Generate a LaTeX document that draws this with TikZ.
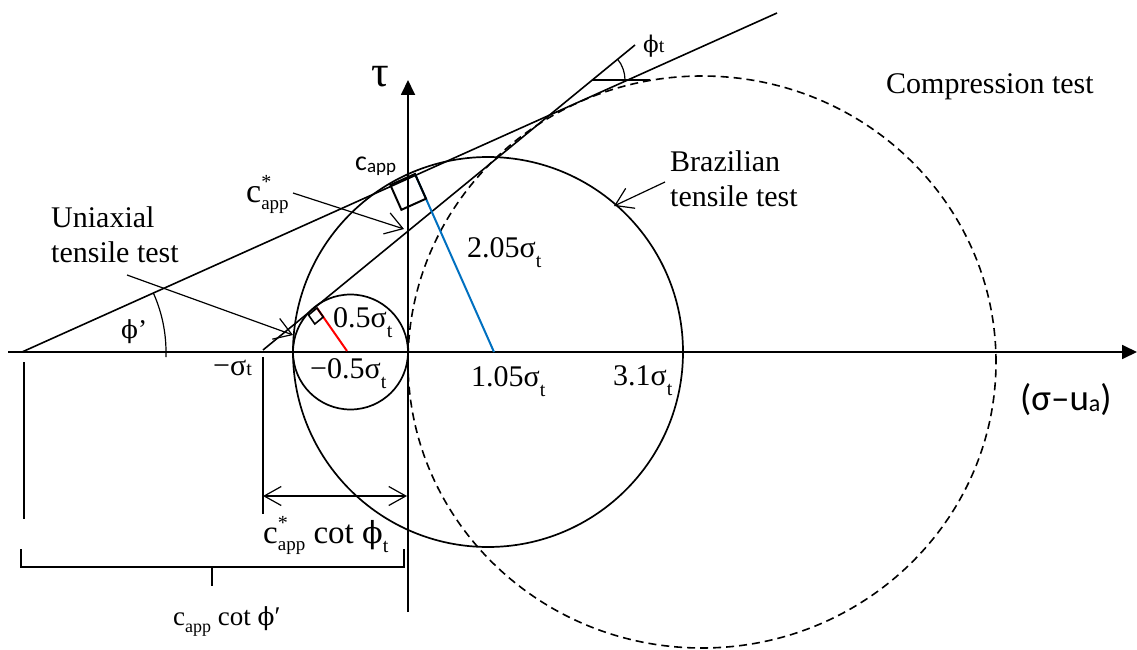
\documentclass[tikz,border=0pt]{standalone}
\usepackage{fontspec}
\setmainfont{Liberation Serif}
\setsansfont{Carlito}
\newfontfamily\phifont{DejaVu Serif}
\usetikzlibrary{arrows.meta, positioning, calc}

\newcommand{\lo}[2][10pt]{\raisebox{-#1}{\fontsize{20}{20}\selectfont #2}}
\newcommand{\sm}[1]{{\fontsize{20}{20}\selectfont #1}}
\newcommand{\supsub}[2]{\rlap{\raisebox{14pt}{\fontsize{20}{20}\selectfont #1}}%
  \raisebox{-7pt}{\fontsize{19}{19}\selectfont #2}}
\newcommand{\phis}{{\phifont\scalebox{0.92}{ϕ}}}
\definecolor{radblue}{RGB}{0,112,192}

\begin{document}
\begin{tikzpicture}[
    x = 1pt, y = 1pt,
    ax/.style    = {line width = 1.8pt, -{Triangle[length=15pt, width=14pt]}},
    circ/.style  = {line width = 1.7pt},
    mohr/.style  = {line width = 1.6pt, dash pattern = on 8pt off 5pt},
    env/.style   = {line width = 1.6pt},
    rmark/.style = {line width = 2pt, line join = miter},
    dimln/.style = {line width = 1.2pt},
    arr/.style   = {line width = 1.2pt, -{Straight Barb[length=17pt, width=22pt]}},
    dimarr/.style= {line width = 1.2pt, {Straight Barb[length=17pt, width=19pt]}-{Straight Barb[length=17pt, width=19pt]}},
    lbl/.style   = {font = \fontsize{30}{35}\selectfont, inner sep = 0pt},
    slbl/.style  = {font = \sffamily\fontsize{30}{35}\selectfont, inner sep = 0pt},
  ]
    \useasboundingbox (0,0) rectangle (1137,-650);

    %% ── Axes ─────────────────────────────────────────────────────
    \coordinate (O)    at (408,-352);
    \coordinate (xL)   at (8,-352);
    \coordinate (xR)   at (1137,-352);
    \coordinate (yB)   at (408,-612);
    \coordinate (yT)   at (408,-80);
    \draw[ax] (xL) -- (xR);
    \draw[ax] (yB) -- (yT);

    %% ── Mohr circles ─────────────────────────────────────────────
    \draw[circ] (350.5,-352) circle[radius = 57.5];
    \draw[circ] (488,-352) circle[radius = 195];
    \draw[mohr] (702,-362) ellipse[x radius = 294, y radius = 286];

    %% ── Failure envelopes ────────────────────────────────────────
    \coordinate (E1a) at (22,-352);
    \coordinate (E1b) at (777,-13);
    \coordinate (E2a) at (263,-350);
    \coordinate (E2b) at (635,-45);
    \draw[env] (E1a) -- (E1b);
    \draw[env] (E2a) -- (E2b);
    \coordinate (H1) at (592,-80);
    \coordinate (H2) at (650,-80);
    \draw[env] (H1) -- (H2);
    \draw[line width = 1.2pt] ($(H1)+(33,0)$) arc[start angle = 0, end angle = 39.4, radius = 33];
    \draw[line width = 1.2pt] ($(E1a)+(-2:144)$) arc[start angle = -2, end angle = 24.2, radius = 144];

    %% ── Radii and right-angle marks ──────────────────────────────
    \coordinate (Tb) at (415,-174);
    \coordinate (Cb) at (494,-352);
    \coordinate (Tu) at (317,-308);
    \coordinate (Cu) at (347,-351);
    \draw[line width = 2pt, radblue] (Cb) -- (Tb);
    \draw[line width = 2pt, red] (Cu) -- (Tu);
    \draw[rmark] (Tb) -- (390.4,-185) -- (401.4,-209.8) -- (426,-198.7) -- cycle;
    \draw[line width = 1.6pt] (Tu) -- (308.5,-315) -- (314.8,-324) -- (323.3,-317) -- cycle;

    %% ── Dimension lines ──────────────────────────────────────────
    \draw[line width = 2pt] (24,-362) -- (24,-519);
    \draw[line width = 2pt] (263,-357) -- (263,-514);
    \coordinate (D1) at (263,-496);
    \coordinate (D2) at (407,-496);
    \draw[dimarr] (D1) -- (D2);
    \draw[dimln] (21,-549) -- (21,-567) -- (404,-567) -- (404,-549);
    \draw[dimln] (212,-567) -- (212,-586);

    %% ── Labels ───────────────────────────────────────────────────
    \node[lbl, anchor = base] (tau) at (380,-87) {\fontsize{44}{44}\selectfont τ};
    \node[lbl, anchor = base west] (uni1) at (51,-227) {Uniaxial};
    \node[lbl, anchor = base west] (uni2) at (51,-262) {tensile test};
    \node[lbl, anchor = base west] (cstar) at (246,-202)
      {\fontsize{34}{34}\selectfont c\supsub{*}{app}};
    \node[slbl, anchor = base west] (capp) at (355,-170)
      {\fontsize{28}{28}\selectfont c\raisebox{-2pt}{\fontsize{19}{19}\selectfont app}};
    \node[lbl, anchor = base west] (phit) at (643,-53)
      {\fontsize{25}{25}\selectfont \phis\sm{t}};
    \node[lbl, anchor = base west] (comp) at (886,-94) {Compression test};
    \node[lbl, anchor = base west] (braz1) at (670,-171) {Brazilian};
    \node[lbl, anchor = base west] (braz2) at (670,-206) {tensile test};
    \node[lbl, anchor = base west] (r205) at (467,-257) {2.05σ\lo{t}};
    \node[lbl, anchor = base west] (r05) at (333,-327) {0.5σ\lo{t}};
    \node[lbl, anchor = base west] (phid) at (121,-338) {\fontsize{27}{27}\selectfont\phis’};
    \node[lbl, anchor = base west] (mst) at (213,-375) {−σ\sm{t}};
    \node[lbl, anchor = base west] (m05) at (310,-378) {−0.5σ\lo{t}};
    \node[lbl, anchor = base west] (p105) at (471,-386) {1.05σ\lo{t}};
    \node[lbl, anchor = base west] (p31) at (613,-385) {3.1σ\lo{t}};
    \node[slbl, anchor = base west] (xlab) at (1020,-410)
      {\fontsize{37}{37}\selectfont (σ–u\raisebox{-1pt}{\fontsize{24}{24}\selectfont a})};
    \node[lbl, anchor = base west] (dimt) at (263,-543)
      {\fontsize{33}{33}\selectfont c\supsub{*}{app} cot \phis\lo[9pt]{t}};
    \node[lbl, anchor = base west] (dimp) at (173,-625)
      {\fontsize{27}{27}\selectfont c\raisebox{-7pt}{\fontsize{18}{18}\selectfont app} cot \phis′};

    %% ── Pointer arrows ───────────────────────────────────────────
    \coordinate (uniTail)  at (127,-275);
    \coordinate (uniTip)   at (293,-335);
    \coordinate (cstTail)  at (293,-193);
    \coordinate (cstTip)   at (404,-229);
    \coordinate (brzTail)  at (665,-182);
    \coordinate (brzTip)   at (614,-206);
    \draw[arr] (uniTail) -- (uniTip);
    \draw[arr] (cstTail) -- (cstTip);
    \draw[arr] (brzTail) -- (brzTip);
  \end{tikzpicture}
\end{document}
